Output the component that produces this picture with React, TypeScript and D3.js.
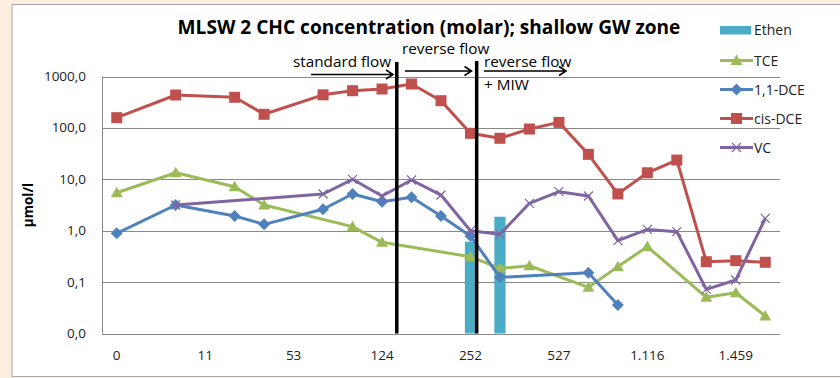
import React from "react";
import * as d3 from "d3";

// ---- data ----
const N = null;
const categoryCount = 23;
const xTickLabels = ["0", "11", "53", "124", "252", "527", "1.116", "1.459"];
const xTickEvery = 3;
const yTickValues = [0.01, 0.1, 1, 10, 100, 1000];
const yTickLabels = ["0,0", "0,1", "1,0", "10,0", "100,0", "1000,0"];

const ethen = [N, N, N, N, N, N, N, N, N, N, N, N, 0.61, 1.87, N, N, N, N, N, N, N, N, N];
const tce = [5.48, N, 13.4, N, 7.18, 3.16, N, N, 1.2, 0.594, N, N, 0.312, 0.185, 0.208, N, 0.079, 0.2, 0.49, N, 0.0506, 0.0622, 0.0219];
const dce11 = [0.889, N, 3.16, N, 1.93, 1.33, N, 2.61, 5.18, 3.67, 4.47, 1.93, 0.789, 0.124, N, N, 0.152, 0.0358, N, N, N, N, N];
const cisDce = [158, N, 437, N, 394, 184, N, 440, 529, 571, 714, 338, 78.5, 62.8, 95, 128, 30.6, 5.2, 13.4, 23.7, 0.249, 0.261, 0.243];
const vc = [N, N, 3.16, N, N, N, N, 5.18, 10.0, 4.73, 9.7, 4.94, 1.0, 0.85, 3.41, 5.74, 4.73, 0.64, 1.06, 0.957, 0.0724, 0.11, 1.74];

// flow phase separators, in category units from the left edge of the axis
const phaseBreaks = [10.0, 12.71];

const lineSeries = [
  { name: "TCE", values: tce, color: "#9bbb59", marker: "triangle" },
  { name: "1,1-DCE", values: dce11, color: "#4f81bd", marker: "diamond" },
  { name: "cis-DCE", values: cisDce, color: "#c0504d", marker: "square" },
  { name: "VC", values: vc, color: "#8064a2", marker: "x" },
];
const ethenColor = "#4bacc6";

const font = "'Open Sans', 'DejaVu Sans', sans-serif";

const Marker = ({ type, x, y, color }: { type: string; x: number; y: number; color: string }) => {
  if (type === "square") return <rect x={x - 5.5} y={y - 5.5} width={11} height={11} fill={color} />;
  if (type === "triangle")
    return <path d={`M${x},${y - 6}L${x + 6},${y + 4.5}L${x - 6},${y + 4.5}Z`} fill={color} />;
  if (type === "diamond")
    return <path d={`M${x},${y - 6}L${x + 6},${y}L${x},${y + 6}L${x - 6},${y}Z`} fill={color} />;
  return (
    <path d={`M${x - 4.5},${y - 4.5}L${x + 4.5},${y + 4.5}M${x - 4.5},${y + 4.5}L${x + 4.5},${y - 4.5}`} stroke={color} strokeWidth={1.2} fill="none" />
  );
};

export default function App() {
  const W = 840, H = 378;
  const plot = { left: 102, right: 780, top: 76.5, bottom: 333.5 };

  const cats = d3.range(categoryCount);
  const x = d3.scaleBand<number>().domain(cats).range([plot.left, plot.right]).paddingInner(0).paddingOuter(0);
  const cx = (i: number) => (x(i) as number) + x.bandwidth() / 2;
  const edge = d3.scaleLinear().domain([0, categoryCount]).range([plot.left, plot.right]);
  const y = d3.scaleLog().domain([0.01, 1000]).range([plot.bottom, plot.top]);

  const line = d3.line<[number, number]>().x(d => d[0]).y(d => d[1]);
  const barW = x.bandwidth() * 0.38;

  const legendY = [30, 60.5, 89.5, 118.5, 147.5];

  return (
    <div style={{ position: "absolute", left: 0, top: 0 }}>
      <svg width={W} height={H} style={{ display: "block", fontFamily: font }}>
        <rect x={0} y={0} width={W} height={H} fill="#fdefdf" />
        <rect x={12} y={4.5} width={W} height={372} fill="#ffffff" stroke="#a6a6a6" strokeWidth={1} />

        {/* title */}
        <text x={429} y={34} textAnchor="middle" fontSize={19.1} fontWeight="bold" fill="#000">
          MLSW 2 CHC concentration (molar); shallow GW zone
        </text>

        {/* gridlines + y ticks */}
        {yTickValues.map((v, i) => (
          <g key={v}>
            <line x1={plot.left} x2={plot.right} y1={Math.round(y(v)) + 0.5} y2={Math.round(y(v)) + 0.5} stroke="#898989" strokeWidth={1} />
            <text x={86} y={y(v) + 4.5} textAnchor="end" fontSize={13.5} fill="#222">{yTickLabels[i]}</text>
          </g>
        ))}
        <line x1={plot.left + 0.5} x2={plot.left + 0.5} y1={plot.top} y2={plot.bottom} stroke="#898989" />

        {/* x tick labels */}
        {xTickLabels.map((t, k) => (
          <text key={t} x={cx(k * xTickEvery)} y={360} textAnchor="middle" fontSize={13.5} fill="#222">{t}</text>
        ))}

        {/* y axis title */}
        <text transform={`translate(33,${(plot.top + plot.bottom) / 2}) rotate(-90)`} textAnchor="middle" fontSize={13.5} fontWeight="bold" fill="#000">
          µmol/l
        </text>

        {/* Ethen bars */}
        {ethen.map((v, i) =>
          v == null ? null : (
            <rect key={i} x={cx(i) - barW / 2} y={y(v)} width={barW} height={plot.bottom - y(v)} fill={ethenColor} />
          )
        )}

        {/* line series */}
        {lineSeries.map(s => {
          const pts = s.values
            .map((v, i) => (v == null ? null : ([cx(i), y(v)] as [number, number])))
            .filter((p): p is [number, number] => p != null);
          return (
            <g key={s.name}>
              <path d={line(pts) || ""} fill="none" stroke={s.color} strokeWidth={3} strokeLinejoin="round" />
              {pts.map((p, j) => (
                <Marker key={j} type={s.marker} x={p[0]} y={p[1]} color={s.color} />
              ))}
            </g>
          );
        })}

        {/* phase separators */}
        {phaseBreaks.map((b, i) => (
          <line key={i} x1={edge(b)} x2={edge(b)} y1={i === 0 ? 62 : 61} y2={plot.bottom} stroke="#000" strokeWidth={3.5} />
        ))}

        {/* annotations */}
        <g fontSize={15.3} fill="#000">
          <text x={293} y={66.5}>standard flow</text>
          <text x={402} y={54}>reverse flow</text>
          <text x={484} y={66.5}>reverse flow</text>
          <text x={484} y={89.5}>+ MIW</text>
        </g>
        <g stroke="#000" strokeWidth={1.6} fill="none">
          <path d="M311,74.5H393M386,70L393,74.5L386,79" />
          <path d="M405,71H471.5M464.5,66.5L471.5,71L464.5,75.5" />
          <path d="M484,71H566M559,66.5L566,71L559,75.5" />
        </g>

        {/* legend */}
        <rect x={720} y={26} width={31} height={8.5} fill={ethenColor} />
        <text x={754} y={legendY[0] + 5} fontSize={14} fill="#222">Ethen</text>
        {lineSeries.map((s, i) => (
          <g key={s.name}>
            <line x1={720} x2={753} y1={legendY[i + 1]} y2={legendY[i + 1]} stroke={s.color} strokeWidth={3} />
            <Marker type={s.marker} x={736.5} y={legendY[i + 1]} color={s.color} />
            <text x={754} y={legendY[i + 1] + 5} fontSize={14} fill="#222">{s.name}</text>
          </g>
        ))}
      </svg>
    </div>
  );
}
